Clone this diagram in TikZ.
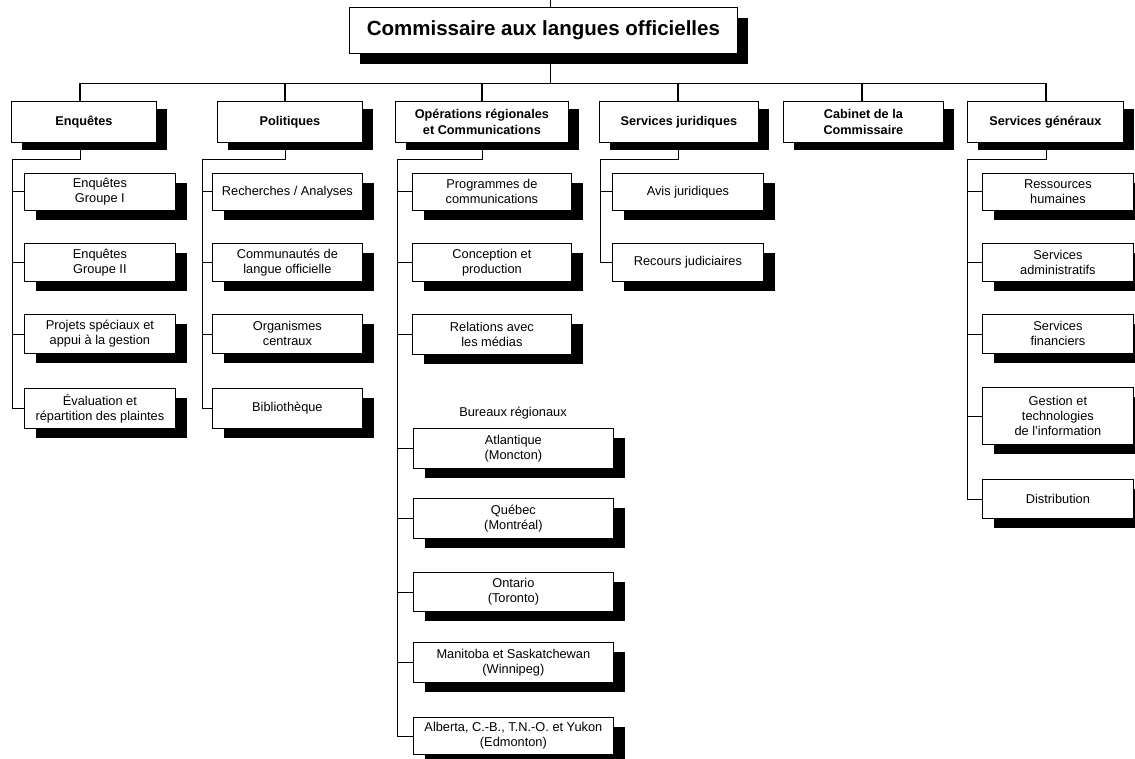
\documentclass[tikz,border=0pt]{standalone}
\usepackage{fontspec}
\setmainfont{Liberation Sans}
\usetikzlibrary{shadows}
\begin{document}
\begin{tikzpicture}[x=1pt,y=-1pt,
  shbox/.style={draw=black, line width=0.8pt, fill=white, anchor=north west, inner sep=0pt, align=center},
  kid/.style={shbox, font=\fontsize{12.8}{15}\selectfont,
    drop shadow={shadow xshift=12pt,shadow yshift=-10pt,fill=black,opacity=1}},
  head/.style={shbox, font=\bfseries\fontsize{12.7}{16.5}\selectfont, minimum height=41pt,
    drop shadow={shadow xshift=11pt,shadow yshift=-8pt,fill=black,opacity=1}},
  ttl/.style={shbox, font=\bfseries\fontsize{20.5}{24}\selectfont,
    drop shadow={shadow xshift=11pt,shadow yshift=-11pt,fill=black,opacity=1}},
  conn/.style={line width=0.8pt},
  dropln/.style={line width=1.6pt}]
\useasboundingbox (0,0) rectangle (1135,759);

% title
\node[ttl, minimum width=388pt, minimum height=46pt] (title) at (349,7) {Commissaire aux langues officielles};

% level 1
\node[head, minimum width=145pt] (l1) at (11,101) {Enquêtes};
\node[head, minimum width=145pt] (l2) at (217,101) {Politiques};
\node[head, minimum width=173pt] (l3) at (395,101) {Opérations régionales\\et Communications};
\node[head, minimum width=159pt] (l4) at (599,101) {Services juridiques};
\node[head, minimum width=160pt] (l5) at (783,101) {Cabinet de la\\Commissaire};
\node[head, minimum width=156pt] (l6) at (967,101) {Services généraux};

% Enquêtes
\node[kid, minimum width=151pt, minimum height=37pt] (c11) at (24,173) {Enquêtes\\Groupe I};
\node[kid, minimum width=151pt, minimum height=38pt] (c12) at (24,243) {Enquêtes\\Groupe II};
\node[kid, minimum width=151pt, minimum height=39pt] (c13) at (24,314) {Projets spéciaux et\\appui à la gestion};
\node[kid, minimum width=151pt, minimum height=40pt] (c14) at (24,388) {Évaluation et\\répartition des plaintes};

% Politiques
\node[kid, minimum width=150pt, minimum height=37pt] (c21) at (212,173) {Recherches / Analyses};
\node[kid, minimum width=150pt, minimum height=38pt] (c22) at (212,243) {Communautés de\\langue officielle};
\node[kid, minimum width=150pt, minimum height=39pt] (c23) at (212,314) {Organismes\\centraux};
\node[kid, minimum width=150pt, minimum height=40pt] (c24) at (212,388) {Bibliothèque};

% Operations
\node[kid, minimum width=159pt, minimum height=37pt] (c31) at (412,173) {Programmes de\\communications};
\node[kid, minimum width=159pt, minimum height=38pt] (c32) at (412,243) {Conception et\\production};
\node[kid, minimum width=159pt, minimum height=40pt] (c33) at (412,314) {Relations avec\\les médias};
\node[font=\fontsize{12.8}{15}\selectfont, inner sep=0pt] (bur) at (513,413) {Bureaux régionaux};
\node[kid, minimum width=200pt, minimum height=40pt] (r1) at (413,428) {Atlantique\\(Moncton)};
\node[kid, minimum width=200pt, minimum height=40pt] (r2) at (413,498) {Québec\\(Montréal)};
\node[kid, minimum width=200pt, minimum height=39pt] (r3) at (413,572) {Ontario\\(Toronto)};
\node[kid, minimum width=200pt, minimum height=40pt] (r4) at (413,642) {Manitoba et Saskatchewan\\(Winnipeg)};
\node[kid, minimum width=200pt, minimum height=37pt] (r5) at (413,717) {Alberta, C.-B., T.N.-O. et Yukon\\(Edmonton)};

% Services juridiques
\node[kid, minimum width=151pt, minimum height=37pt] (c41) at (612,173) {Avis juridiques};
\node[kid, minimum width=151pt, minimum height=38pt] (c42) at (612,243) {Recours judiciaires};

% Services generaux
\node[kid, minimum width=151pt, minimum height=37pt] (c61) at (982,173) {Ressources\\humaines};
\node[kid, minimum width=151pt, minimum height=38pt] (c62) at (982,243) {Services\\administratifs};
\node[kid, minimum width=151pt, minimum height=39pt] (c63) at (982,314) {Services\\financiers};
\node[kid, minimum width=151pt, minimum height=57pt] (c64) at (982,387) {Gestion et\\technologies\\de l'information};
\node[kid, minimum width=151pt, minimum height=39pt] (c65) at (982,479) {Distribution};

% connectors
\coordinate (top) at (550,0);
\coordinate (bus) at (0,83);
\coordinate (d1) at (80,83);
\coordinate (d2) at (285,83);
\coordinate (d3) at (482,83);
\coordinate (d4) at (678,83);
\coordinate (d5) at (862,83);
\coordinate (d6) at (1046,83);
\draw[conn] (top) -- (top |- title.north);
\draw[conn] (top |- title.south) -- (top |- bus);
\draw[conn] (d1) -- (d6);
\draw[dropln] (d1) -- (d1 |- l1.north);
\draw[dropln] (d2) -- (d2 |- l2.north);
\draw[dropln] (d3) -- (d3 |- l3.north);
\draw[dropln] (d4) -- (d4 |- l4.north);
\draw[dropln] (d5) -- (d5 |- l5.north);
\draw[dropln] (d6) -- (d6 |- l6.north);

\coordinate (v1) at (12,159);
\coordinate (v2) at (202,159);
\coordinate (v3) at (397,159);
\coordinate (v4) at (600,159);
\coordinate (v6) at (967,159);

\draw[conn] (d1 |- l1.south) -- (d1 |- v1) -- (v1) -- (v1 |- c14.west);
\foreach \c in {c11,c12,c13,c14} \draw[conn] (v1 |- \c.west) -- (\c.west);
\draw[conn] (d2 |- l2.south) -- (d2 |- v2) -- (v2) -- (v2 |- c24.west);
\foreach \c in {c21,c22,c23,c24} \draw[conn] (v2 |- \c.west) -- (\c.west);
\draw[conn] (d3 |- l3.south) -- (d3 |- v3) -- (v3) -- (v3 |- r5.west);
\foreach \c in {c31,c32,c33,r1,r2,r3,r4,r5} \draw[conn] (v3 |- \c.west) -- (\c.west);
\draw[conn] (d4 |- l4.south) -- (d4 |- v4) -- (v4) -- (v4 |- c42.west);
\foreach \c in {c41,c42} \draw[conn] (v4 |- \c.west) -- (\c.west);
\draw[conn] (d6 |- l6.south) -- (d6 |- v6) -- (v6) -- (v6 |- c65.west);
\foreach \c in {c61,c62,c63,c64,c65} \draw[conn] (v6 |- \c.west) -- (\c.west);
\end{tikzpicture}
\end{document}
